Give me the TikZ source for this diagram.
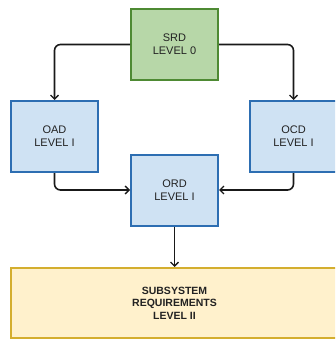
\documentclass[tikz,border=0pt]{standalone}
\usepackage{fontspec}
\setmainfont{Liberation Sans}
\usetikzlibrary{arrows.meta}
\definecolor{gfill}{HTML}{B7D7A8}
\definecolor{gdraw}{HTML}{4E8A33}
\definecolor{bfill}{HTML}{CFE2F3}
\definecolor{bdraw}{HTML}{2D6EB2}
\definecolor{yfill}{HTML}{FFF1CC}
\definecolor{ydraw}{HTML}{D4AE2E}
\definecolor{txt}{HTML}{222222}
\tikzset{
  box/.style={draw, line width=2pt, minimum width=87pt, minimum height=71pt, inner sep=0pt,
    align=center, text=txt, font=\fontsize{11}{13}\selectfont},
  greenbox/.style={box, fill=gfill, draw=gdraw},
  bluebox/.style={box, fill=bfill, draw=bdraw},
  yellowbox/.style={box, fill=yfill, draw=ydraw, minimum width=327pt, minimum height=70pt,
    font=\fontsize{10.5}{12.5}\selectfont\bfseries},
  conn/.style={draw=black!90, line width=1.6pt, rounded corners=6pt,
    -{Straight Barb[length=4pt,width=8pt,line width=1.4pt]}}
}
\begin{document}
\begin{tikzpicture}[x=1pt,y=-1pt]
\useasboundingbox (0,0) rectangle (335,342);
\clip (0,0) rectangle (335,342);
\node[greenbox] (srd) at (174.5,44.5) {SRD\\LEVEL 0};
\node[bluebox] (oad) at (54.5,136.5) {OAD\\LEVEL I};
\node[bluebox] (ocd) at (293.5,136.5) {OCD\\LEVEL I};
\node[bluebox] (ord) at (174.5,190) {ORD\\LEVEL I};
\node[yellowbox] (sub) at (174.5,303) {SUBSYSTEM\\REQUIREMENTS\\LEVEL II};
\draw[conn] (srd.west) -| (oad.north);
\draw[conn] (srd.east) -| (ocd.north);
\draw[conn] (oad.south) |- (ord.west);
\draw[conn] (ocd.south) |- (ord.east);
\draw[conn] (ord.south) -- (sub.north);
\end{tikzpicture}
\end{document}
